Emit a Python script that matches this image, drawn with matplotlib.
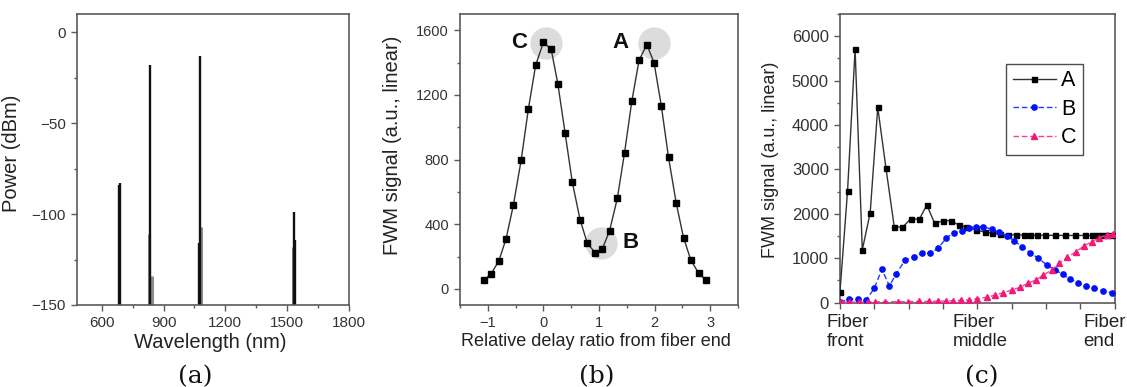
import matplotlib
matplotlib.use("Agg")
import matplotlib.pyplot as plt
import matplotlib.transforms as mtransforms
from matplotlib.ticker import MultipleLocator, FixedLocator

plt.rcParams['font.family'] = ['Liberation Sans', 'DejaVu Sans']

# ---------------- Panel (a): spectrum lines ----------------
a_black_wl = [685, 687, 836, 1078, 1071, 1531, 1536]
a_black_pw = [-84, -83, -18, -13, -116, -99, -114]
a_gray_wl = [830, 843, 1084, 1526]
a_gray_pw = [-111, -134, -107, -118]
a_xticks = [600, 900, 1200, 1500, 1800]
a_yticks = [0, -50, -100, -150]

# ---------------- Panel (b): FWM vs delay ----------------
b_x = [-1.07, -0.94, -0.80, -0.67, -0.54, -0.40, -0.27, -0.14, 0.0, 0.14,
       0.26, 0.39, 0.52, 0.66, 0.79, 0.93, 1.06, 1.19, 1.33, 1.46,
       1.59, 1.72, 1.86, 1.99, 2.12, 2.25, 2.39, 2.52, 2.65, 2.79, 2.92]
b_y = [52, 93, 174, 311, 518, 796, 1113, 1382, 1525, 1482,
       1268, 964, 659, 427, 282, 224, 247, 359, 560, 843,
       1160, 1413, 1511, 1399, 1134, 814, 528, 317, 180, 97, 56]
b_mark_x = [0.05, 1.995, 1.03]
b_mark_y = [1523, 1523, 284]
b_mark_lbl = ['C', 'A', 'B']
b_lbl_x = [-0.44, 1.39, 1.56]
b_lbl_y = [1523, 1523, 284]

# ---------------- Panel (c): FWM along fiber ----------------
c_xA = [0, 0.22, 0.44, 0.65, 0.88, 1.10, 1.34, 1.58, 1.82, 2.06, 2.31, 2.53,
        2.76, 2.99, 3.23, 3.46, 3.67, 3.97, 4.22, 4.42, 4.66, 4.91, 5.13, 5.35,
        5.54, 5.74, 5.98, 6.27, 6.56, 6.85, 7.14, 7.34, 7.49, 7.63, 7.78, 7.93]
c_yA = [250, 2516, 5707, 1187, 2027, 4400, 3027, 1712, 1698, 1885, 1878, 2200,
        1785, 1845, 1845, 1750, 1700, 1635, 1590, 1565, 1540, 1530, 1525, 1525,
        1520, 1520, 1520, 1515, 1515, 1515, 1515, 1515, 1515, 1520, 1520, 1525]
c_xB = [0, 0.25, 0.52, 0.76, 1.0, 1.22, 1.44, 1.64, 1.90, 2.15, 2.39, 2.63,
        2.86, 3.09, 3.31, 3.55, 3.75, 3.97, 4.18, 4.42, 4.64, 4.86, 5.08, 5.31,
        5.54, 5.78, 6.03, 6.27, 6.49, 6.71, 6.95, 7.17, 7.41, 7.66, 7.92]
c_yB = [10, 76, 90, 61, 324, 752, 376, 653, 962, 1036, 1112, 1112,
        1225, 1450, 1577, 1607, 1690, 1712, 1712, 1653, 1586, 1509, 1390, 1261,
        1126, 1000, 849, 740, 640, 527, 450, 376, 324, 270, 225]
c_xC = [0.03, 0.27, 0.55, 0.81, 1.03, 1.32, 1.68, 1.97, 2.31, 2.60, 2.85, 3.09,
        3.29, 3.53, 3.75, 3.98, 4.28, 4.52, 4.76, 5.0, 5.25, 5.47, 5.71, 5.93,
        6.17, 6.39, 6.63, 6.88, 7.11, 7.34, 7.56, 7.78, 7.95]
c_yC = [15, 15, 15, 20, 20, 20, 25, 25, 30, 30, 35, 40,
        45, 55, 65, 90, 121, 173, 225, 286, 346, 437, 511, 624,
        736, 887, 1022, 1149, 1277, 1374, 1464, 1525, 1540]
c_xticks = [0, 4, 8]
c_xticklabels = ['Fiber\nfront', 'Fiber\nmiddle', 'Fiber\nend']
c_yticks = [0, 1000, 2000, 3000, 4000, 5000, 6000]

W, H = 1127, 387
fig = plt.figure(figsize=(W / 100, H / 100), dpi=100)

spine_col = '#5a5a5a'
tick_col = '#333333'


def px_axes(l, r, t, b):
    return fig.add_axes([l / W, 1 - b / H, (r - l) / W, (b - t) / H])


def style(ax, fs):
    for s in ax.spines.values():
        s.set_color(spine_col)
        s.set_linewidth(1.2)
    ax.tick_params(which='both', direction='out', color=spine_col,
                   labelcolor=tick_col, labelsize=fs, top=False, right=False)
    ax.tick_params(which='major', length=4.5, width=1.0)
    ax.tick_params(which='minor', length=2.5, width=1.0)


# ---- (a)
axa = px_axes(77, 349, 14, 305)
axa.vlines(a_gray_wl, -150, a_gray_pw, colors='#8c8c8c', linewidth=2.2)
axa.vlines(a_black_wl, -150, a_black_pw, colors='#111111', linewidth=1.7)
axa.set_xlim(480, 1800)
axa.set_ylim(-150, 10)
axa.set_xticks(a_xticks)
axa.set_yticks(a_yticks)
axa.xaxis.set_minor_locator(MultipleLocator(150))
axa.yaxis.set_minor_locator(MultipleLocator(25))
style(axa, 11)
axa.set_xlabel('Wavelength (nm)', fontsize=14.5, color='#222222')
axa.set_ylabel('Power (dBm)', fontsize=14.5, color='#222222')
axa.yaxis.set_label_coords(-0.205, 0.52)
axa.xaxis.set_label_coords(0.49, -0.095)

# ---- (b)
axb = px_axes(460, 738, 14, 305)
axb.scatter(b_mark_x, b_mark_y, s=540, color='#dcdcdc', zorder=1, linewidths=0)
axb.plot(b_x, b_y, '-', color='#333333', linewidth=1.0, marker='s',
         markersize=3.8, markerfacecolor='black', markeredgecolor='black', zorder=3)
for lx, ly, t in zip(b_lbl_x, b_lbl_y, b_mark_lbl):
    axb.text(lx, ly, t, fontsize=16, fontweight='bold', ha='center', va='center',
             color='#111111')
axb.set_xlim(-1.5, 3.5)
axb.set_ylim(-100, 1700)
axb.set_xticks([-1, 0, 1, 2, 3])
axb.set_yticks([0, 400, 800, 1200, 1600])
axb.xaxis.set_minor_locator(MultipleLocator(0.5))
axb.yaxis.set_minor_locator(MultipleLocator(200))
style(axb, 10.5)
axb.set_xlabel('Relative delay ratio from fiber end', fontsize=13, color='#222222')
axb.set_ylabel('FWM signal (a.u., linear)', fontsize=14.5, color='#222222')
axb.yaxis.set_label_coords(-0.21, 0.55)
axb.xaxis.set_label_coords(0.49, -0.095)

# ---- (c)
axc = px_axes(840, 1114.5, 14, 302.7)
pink = '#f01878'
axc.plot(c_xA, c_yA, '-', color='#333333', linewidth=1.0, marker='s', markersize=3.6,
         markerfacecolor='black', markeredgecolor='black', label='A', zorder=3)
axc.plot(c_xB, c_yB, '--', color='#1f3fff', linewidth=1.0, marker='o', markersize=3.8,
         markerfacecolor='#0010ff', markeredgecolor='#0010ff', label='B', zorder=3,
         dashes=(4, 2))
axc.plot(c_xC, c_yC, '--', color='#ff4090', linewidth=1.0, marker='^', markersize=4.6,
         markerfacecolor=pink, markeredgecolor=pink, label='C', zorder=3, dashes=(4, 2))
axc.set_xlim(0, 8)
axc.set_ylim(0, 6500)
axc.set_yticks(c_yticks)
axc.yaxis.set_minor_locator(MultipleLocator(500))
axc.set_xticks(c_xticks)
axc.set_xticklabels(c_xticklabels, multialignment='left')
axc.xaxis.set_minor_locator(FixedLocator([1, 2, 3, 5, 6, 7]))
style(axc, 12)
axc.tick_params(axis='x', which='both', length=4.5, labelsize=13.5, labelcolor='#222222')
shifts = [8, 3, -10]
for lab, dx in zip(axc.get_xticklabels(), shifts):
    lab.set_transform(lab.get_transform() +
                      mtransforms.ScaledTranslation(dx / 100, 0, fig.dpi_scale_trans))
axc.set_ylabel('FWM signal (a.u., linear)', fontsize=13, color='#222222')
axc.yaxis.set_label_coords(-0.222, 0.494)
leg = axc.legend(loc='upper left', bbox_to_anchor=(0.605, 0.827), fontsize=15.5,
                 frameon=True, fancybox=False, handlelength=2.0, handletextpad=0.25,
                 labelspacing=0.35, borderpad=0.3, borderaxespad=0)
leg.get_frame().set_edgecolor('#222222')
leg.get_frame().set_linewidth(1.0)

# captions
for cx, t in zip([195, 597, 982], ['(a)', '(b)', '(c)']):
    fig.text(cx / W, 1 - 383 / H, t, fontsize=18, family='DejaVu Serif',
             ha='center', va='baseline', color='#111111')

fig.savefig('out.png', dpi=100)
